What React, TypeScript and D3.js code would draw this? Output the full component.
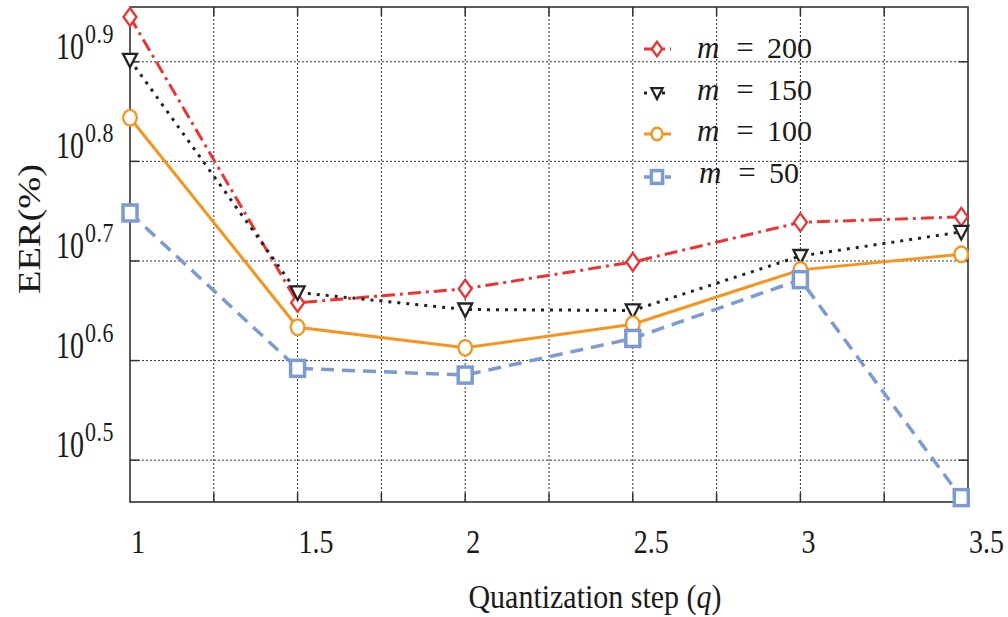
import React from "react";
import * as d3 from "d3";

// ---- data ----
const Q_VALUES = [1, 1.5, 2, 2.5, 3, 3.48];
const EER_M200 = [8.81, 4.55, 4.7, 5.0, 5.48, 5.55];
const EER_M150 = [7.98, 4.66, 4.48, 4.47, 5.07, 5.36];
const EER_M100 = [6.98, 4.3, 4.1, 4.33, 4.91, 5.09];
const EER_M50 = [5.6, 3.91, 3.85, 4.19, 4.8, 2.9];
const SERIES_NAMES = ["200", "150", "100", "50"];
const X_GRID = [1.25, 1.5, 1.75, 2, 2.25, 2.5, 2.75, 3, 3.25];
const X_TICK_LABELS = ["1", "1.5", "2", "2.5", "3", "3.5"];
const Y_TICK_EXPONENTS = ["0.5", "0.6", "0.7", "0.8", "0.9"];

const W = 1008;
const H = 617;
const L = 130, R = 968, T = 7, B = 502;

const FONT = "'Liberation Serif', 'Times New Roman', serif";

type Shape = "diamond" | "triangle" | "circle" | "square";
const STYLES: { color: string; dash: string; width: number; shape: Shape; mw: number }[] = [
  { color: "#EE3333", dash: "13,5,3,5", width: 3, shape: "diamond", mw: 2.3 },
  { color: "#222222", dash: "3,6", width: 3, shape: "triangle", mw: 2.3 },
  { color: "#F7941D", dash: "none", width: 3, shape: "circle", mw: 2.3 },
  { color: "#7B9BD1", dash: "13,8", width: 3.5, shape: "square", mw: 3.5 },
];

function Marker({ shape, x, y, color, sw, s = 1 }: { shape: Shape; x: number; y: number; color: string; sw: number; s?: number }) {
  const common = { fill: "white", stroke: color, strokeWidth: sw };
  if (shape === "diamond")
    return <path d={`M${x},${y - 9 * s} L${x + 6.5 * s},${y} L${x},${y + 9 * s} L${x - 6.5 * s},${y} Z`} {...common} />;
  if (shape === "triangle")
    return <path d={`M${x - 7 * s},${y - 6 * s} L${x + 7 * s},${y - 6 * s} L${x},${y + 7.5 * s} Z`} {...common} />;
  if (shape === "circle") return <ellipse cx={x} cy={y} rx={6.8 * s} ry={7.8 * s} {...common} />;
  return <rect x={x - 7 * s} y={y - 8 * s} width={14 * s} height={16 * s} {...common} />;
}

function SText({ x, y, sy, size, anchor = "start", children, italic = false, ls = 0 }: any) {
  return (
    <text
      transform={`translate(${x},${y}) scale(1,${sy})`}
      fontFamily={FONT}
      fontSize={size}
      textAnchor={anchor}
      fontStyle={italic ? "italic" : "normal"}
      letterSpacing={ls}
      fill="#1a1a1a"
    >
      {children}
    </text>
  );
}

export default function App() {
  const x = d3.scaleLinear().domain([1, 3.5]).range([L, R]);
  const y = d3.scaleLog().domain([Math.pow(10, 0.458), Math.pow(10, 0.955)]).range([B, T]);
  const seriesData = [EER_M200, EER_M150, EER_M100, EER_M50];
  const line = d3
    .line<[number, number]>()
    .x((d) => x(d[0]))
    .y((d) => y(d[1]));

  const yTickVals = Y_TICK_EXPONENTS.map((e) => Math.pow(10, parseFloat(e)));
  const legendMarkerY = [49, 93, 134, 177];
  const legendBaseY = [58, 100, 141, 183];

  return (
    <svg width={W} height={H} style={{ position: "fixed", left: 0, top: 0, background: "white" }}>
      <rect x={0} y={0} width={W} height={H} fill="white" />
      {/* grid */}
      {X_GRID.map((g) => (
        <line key={"gx" + g} x1={x(g)} x2={x(g)} y1={T} y2={B} stroke="#333" strokeWidth={1} strokeDasharray="2,2" />
      ))}
      {yTickVals.map((v, i) => (
        <line key={"gy" + i} x1={L} x2={R} y1={y(v)} y2={y(v)} stroke="#333" strokeWidth={1} strokeDasharray="2,2" />
      ))}
      {/* ticks */}
      {X_GRID.map((g) => (
        <g key={"tx" + g}>
          <line x1={x(g)} x2={x(g)} y1={B} y2={B - 9} stroke="#333" strokeWidth={1.5} />
          <line x1={x(g)} x2={x(g)} y1={T} y2={T + 9} stroke="#333" strokeWidth={1.5} />
        </g>
      ))}
      {yTickVals.map((v, i) => (
        <g key={"ty" + i}>
          <line x1={L} x2={L + 9} y1={y(v)} y2={y(v)} stroke="#333" strokeWidth={1.5} />
          <line x1={R} x2={R - 9} y1={y(v)} y2={y(v)} stroke="#333" strokeWidth={1.5} />
        </g>
      ))}
      {/* frame */}
      <rect x={L} y={T} width={R - L} height={B - T} fill="none" stroke="#333" strokeWidth={1.6} />

      {/* series */}
      {seriesData.map((vals, si) => {
        const st = STYLES[si];
        const pts: [number, number][] = Q_VALUES.map((q, i) => [q, vals[i]]);
        return (
          <g key={"s" + si}>
            <path d={line(pts) || ""} fill="none" stroke={st.color} strokeWidth={st.width} strokeDasharray={st.dash} />
            {pts.map((p, i) => (
              <Marker key={i} shape={st.shape} x={x(p[0])} y={y(p[1])} color={st.color} sw={st.mw} />
            ))}
          </g>
        );
      })}

      {/* legend */}
      {SERIES_NAMES.map((name, si) => {
        const st = STYLES[si];
        const my = legendMarkerY[si];
        return (
          <g key={"lg" + si}>
            <line x1={644} x2={671} y1={my} y2={my} stroke={st.color} strokeWidth={st.width} strokeDasharray={st.dash} />
            <Marker shape={st.shape} x={657} y={my} color={st.color} sw={st.mw} s={0.8} />
            <SText x={si === 3 ? 699 : 697} y={legendBaseY[si]} sy={1} size={31} italic>
              m
            </SText>
            <SText x={si === 3 ? 747 : 745} y={legendBaseY[si]} sy={1} size={31} anchor="middle">
              =
            </SText>
            <SText x={si === 3 ? 769 : 767} y={legendBaseY[si]} sy={1} size={30}>
              {name}
            </SText>
          </g>
        );
      })}

      {/* y tick labels */}
      {Y_TICK_EXPONENTS.map((e, i) => {
        const gy = y(yTickVals[i]);
        return (
          <g key={"yl" + i}>
            <SText x={84} y={gy - 3} sy={1.32} size={28} anchor="end">
              10
            </SText>
            <SText x={85} y={gy - 19} sy={1.2} size={22} ls={0.5}>
              {e}
            </SText>
          </g>
        );
      })}

      {/* x tick labels */}
      {X_TICK_LABELS.map((t) => (
        <SText key={"xl" + t} x={x(parseFloat(t)) + 1} y={553} sy={1.2} size={28}>
          {t}
        </SText>
      ))}

      {/* axis titles */}
      <SText x={595} y={608} sy={1.15} size={30} anchor="middle">
        Quantization step (<tspan fontStyle="italic">q</tspan>)
      </SText>
      <text
        transform={`translate(40,229) scale(1,1.2) rotate(-90)`}
        fontFamily={FONT}
        fontSize={32}
        textAnchor="middle"
        fill="#1a1a1a"
      >
        EER(%)
      </text>
    </svg>
  );
}
